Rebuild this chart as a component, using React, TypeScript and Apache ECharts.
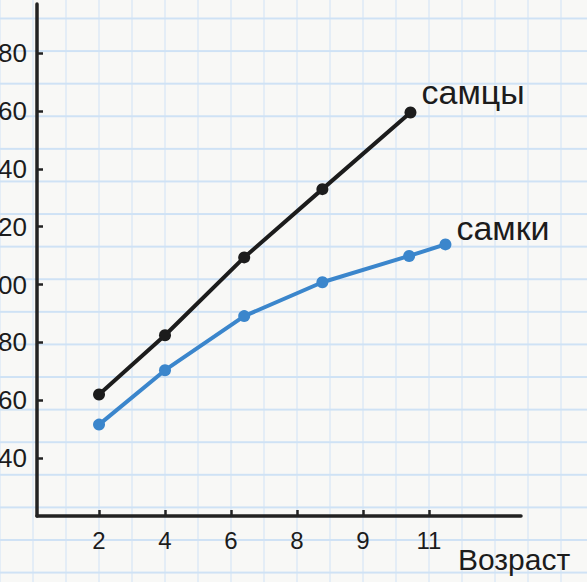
import React, { useEffect, useRef } from "react";
import * as echarts from "echarts";

const ageLabels = ["2", "4", "6", "8", "9", "11"];
const tickAges = [2, 4, 6, 8, 10, 12];
const yTicks = [40, 60, 80, 100, 120, 140, 160, 180];

const maleAges = [2, 4, 6.4, 8.77, 11.44];
const maleLength = [62, 82.5, 109.4, 133, 159.5];
const femaleAges = [2, 4, 6.4, 8.77, 11.4, 12.5];
const femaleLength = [51.6, 70.4, 89.1, 100.8, 109.9, 113.9];

const seriesNames = ["самцы", "самки"];
const axisName = "Возраст";

const FONT = "'Liberation Sans', Arial, Helvetica, sans-serif";
const INK = "#1c1c1c";

export default function App() {
  const ref = useRef<HTMLDivElement>(null);

  useEffect(() => {
    if (!ref.current) return;
    const chart = echarts.init(ref.current, undefined, { renderer: "svg" });

    const male = maleAges.map((a, i) => {
      const item: any = { value: [a, maleLength[i]] };
      if (i === maleAges.length - 1) {
        item.label = {
          show: true,
          position: "right",
          offset: [0, -20],
          formatter: seriesNames[0],
          fontSize: 34,
          fontFamily: FONT,
          color: INK,
        };
      }
      return item;
    });
    const female = femaleAges.map((a, i) => {
      const item: any = { value: [a, femaleLength[i]] };
      if (i === femaleAges.length - 1) {
        item.label = {
          show: true,
          position: "right",
          offset: [0, -16],
          formatter: seriesNames[1],
          fontSize: 34,
          fontFamily: FONT,
          color: INK,
        };
      }
      return item;
    });

    chart.setOption({
      animation: false,
      textStyle: { fontFamily: FONT },
      grid: {
        left: 37,
        right: 66,
        top: 4,
        bottom: 66,
        containLabel: false,
        outerBoundsMode: "none",
      },
      xAxis: {
        type: "value",
        min: 0.12,
        max: 14.79,
        name: axisName,
        nameLocation: "end",
        nameGap: -63,
        nameTextStyle: {
          fontSize: 30,
          color: INK,
          fontFamily: FONT,
          align: "left",
          verticalAlign: "top",
          padding: [28, 0, 0, 0],
        },
        axisLine: { show: true, onZero: false, lineStyle: { color: "#222", width: 3.5 } },
        axisTick: {
          show: true,
          inside: true,
          length: 6,
          customValues: tickAges,
          lineStyle: { color: "#222", width: 2.5 },
        },
        axisLabel: {
          show: true,
          customValues: tickAges,
          formatter: (v: number) => {
            const idx = tickAges.indexOf(v);
            return idx >= 0 ? ageLabels[idx] : "";
          },
          fontSize: 24,
          margin: 12,
          color: INK,
          fontFamily: FONT,
        },
        splitLine: { show: false },
      },
      yAxis: {
        type: "value",
        min: 20,
        max: 197,
        axisLine: { show: true, onZero: false, lineStyle: { color: "#222", width: 3.5 } },
        axisTick: {
          show: true,
          inside: true,
          length: 6,
          customValues: yTicks,
          lineStyle: { color: "#222", width: 2.5 },
        },
        axisLabel: {
          show: true,
          customValues: yTicks,
          fontSize: 26,
          margin: 10,
          color: INK,
          fontFamily: FONT,
        },
        splitLine: { show: false },
      },
      series: [
        {
          name: seriesNames[1],
          type: "line",
          data: female,
          symbol: "circle",
          symbolSize: 12,
          lineStyle: { color: "#3b86cc", width: 4 },
          itemStyle: { color: "#3b86cc" },
          z: 2,
        },
        {
          name: seriesNames[0],
          type: "line",
          data: male,
          symbol: "circle",
          symbolSize: 12,
          lineStyle: { color: "#1c1c1c", width: 4 },
          itemStyle: { color: "#1c1c1c" },
          z: 3,
        },
      ],
    });

    return () => chart.dispose();
  }, []);

  return (
    <div
      ref={ref}
      style={{
        position: "fixed",
        left: 0,
        top: 0,
        width: 587,
        height: 582,
        backgroundColor: "#f8f8f6",
        backgroundImage:
          "linear-gradient(to right, #cfe2f5 1.5px, transparent 1.5px), linear-gradient(to bottom, #cfe2f5 1.5px, transparent 1.5px)",
        backgroundSize: "33px 32.6px",
        backgroundPosition: "-0.5px 17.5px",
      }}
    />
  );
}
